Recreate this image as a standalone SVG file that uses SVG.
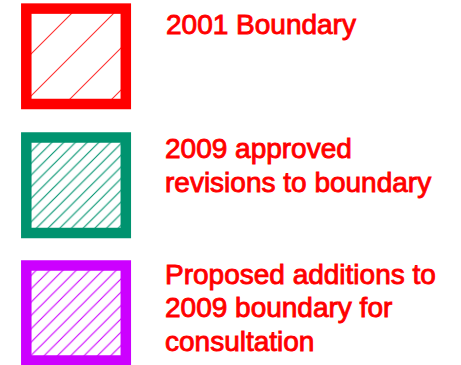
<svg xmlns="http://www.w3.org/2000/svg" width="461" height="365" viewBox="0 0 461 365">
  <style>
    .lbl { font-family: "Liberation Sans", Arial, sans-serif; font-size: 28px; fill: #ff0000; stroke: #ff0000; stroke-width: 0.9px; }
    .frame { fill: none; stroke-width: 10.5; }
  </style>
  <defs>
    <pattern id="hRed" patternUnits="userSpaceOnUse" x="1" y="0" width="42" height="42">
      <path d="M-1,43 L43,-1 M-2,2 L2,-2 M40,44 L44,40" stroke="#ff3030" stroke-width="1.1"/>
    </pattern>
    <pattern id="hGreen" patternUnits="userSpaceOnUse" x="7.2" y="0" width="11.7" height="11.7">
      <path d="M-1,12.7 L12.7,-1 M-2,2 L2,-2 M9.7,13.7 L13.7,9.7" stroke="#00936f" stroke-width="1.1"/>
    </pattern>
    <pattern id="hPurple" patternUnits="userSpaceOnUse" x="0" y="0" width="13.33" height="13.33">
      <path d="M-1,14.33 L14.33,-1 M-2,2 L2,-2 M11.33,15.33 L15.33,11.33" stroke="#cc00ff" stroke-width="1.1"/>
    </pattern>
  </defs>
  <rect width="461" height="365" fill="#ffffff"/>

  <g id="legend-2001">
    <rect x="26.3" y="8.6" width="99.5" height="95.4" fill="url(#hRed)"/>
    <rect class="frame" x="26.3" y="8.6" width="99.5" height="95.4" stroke="#ff0000"/>
    <text class="lbl" x="166" y="34">2001 Boundary</text>
  </g>

  <g id="legend-2009">
    <rect x="26.3" y="137.5" width="99.5" height="95.5" fill="url(#hGreen)"/>
    <rect class="frame" x="26.3" y="137.5" width="99.5" height="95.5" stroke="#00936f"/>
    <text class="lbl" x="165" y="157.5">2009 approved</text>
    <text class="lbl" x="165" y="191.5">revisions to boundary</text>
  </g>

  <g id="legend-proposed">
    <rect x="26.3" y="265.5" width="99.5" height="95" fill="url(#hPurple)"/>
    <rect class="frame" x="26.3" y="265.5" width="99.5" height="95" stroke="#cc00ff"/>
    <text class="lbl" x="165" y="283.5">Proposed additions to</text>
    <text class="lbl" x="165" y="317">2009 boundary for</text>
    <text class="lbl" x="165" y="350.5">consultation</text>
  </g>

  <g id="connectors"/>
</svg>
